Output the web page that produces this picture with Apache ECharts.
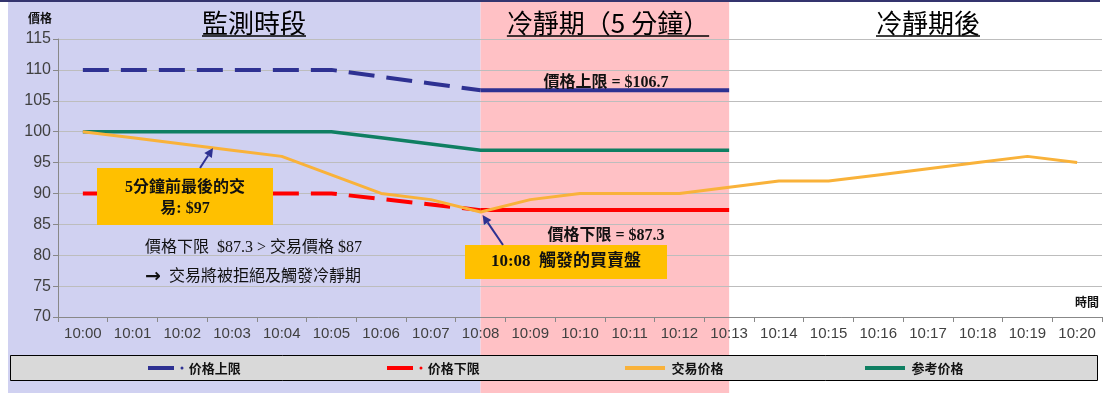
<!DOCTYPE html>
<html><head><meta charset="utf-8">
<script src="https://cdn.jsdelivr.net/npm/echarts@6/dist/echarts.min.js"></script>
<style>html,body{margin:0;padding:0;background:#fff}#c{width:1112px;height:395px}</style>
</head><body><div id="c"></div>
<script>
const times = ['10:00','10:01','10:02','10:03','10:04','10:05','10:06','10:07','10:08','10:09','10:10','10:11','10:12','10:13','10:14','10:15','10:16','10:17','10:18','10:19','10:20'];
const upperLimit = [110,110,110,110,110,110,108.9,107.8,106.7,106.7,106.7,106.7,106.7,106.7,null,null,null,null,null,null,null];
const lowerLimit = [90,90,90,90,90,90,89.1,88.2,87.3,87.3,87.3,87.3,87.3,87.3,null,null,null,null,null,null,null];
const tradePrice = [100,99,98,97,96,93,90,89,87,89,90,90,90,91,92,92,93,94,95,96,95];
const refPrice = [100,100,100,100,100,100,99,98,97,97,97,97,97,97,null,null,null,null,null,null,null];
const yMin = 70, yMax = 115, yStep = 5;
const coolStart = 8, coolEnd = 13;
const seriesNames = ['价格上限','价格下限','交易价格','参考价格'];
const periodTitles = ['監測時段','冷靜期（5 分鐘）','冷靜期後'];

const NAVY = '#2E3192', RED = '#FF0000', ORANGE = '#F9B23A', GREEN = '#0F7F62';
const serif = '"Liberation Serif","Noto Sans CJK TC",serif';
const cjk = '"Noto Sans CJK TC","Noto Sans",sans-serif';

const before = arr => arr.map((v,i)=> i<=coolStart ? v : null);
const during = arr => arr.map((v,i)=> (i>=coolStart && i<=coolEnd) ? v : null);

const chart = echarts.init(document.getElementById('c'), null, {renderer:'canvas'});
const lineDot = 'path://M0,2H26V6H0Z M34,2.5A1.5,1.5,0,1,1,34,5.5A1.5,1.5,0,1,1,34,2.5Z';
const bar = 'path://M0,0H40V4H0Z';
function lg(name, left, icon, w){
  return {data:[{name, icon}], left, top:355, padding:5, itemWidth:w, itemHeight:4, itemGap:4, selectedMode:false,
    textStyle:{fontSize:13, fontWeight:'bold', color:'#111', fontFamily:'"Noto Sans CJK SC",sans-serif', lineHeight:16}};
}
const option = {
  animation:false,
  backgroundColor:'#ffffff',
  grid:{left:58, right:10, top:39, bottom:78},
  legend:[
    lg(seriesNames[0], 143, lineDot, 36),
    lg(seriesNames[1], 382, lineDot, 36),
    lg(seriesNames[2], 620, bar, 43),
    lg(seriesNames[3], 860, bar, 43)
  ],
  xAxis:{type:'category', data:times, boundaryGap:true,
    name:'時間', nameLocation:'end', nameGap:-3,
    nameTextStyle:{align:'right', verticalAlign:'bottom', padding:[0,0,9,0], fontSize:12, fontWeight:'bold', color:'#111', fontFamily:cjk},
    axisLine:{lineStyle:{color:'#888', width:1}},
    axisTick:{show:true, interval:0, alignWithLabel:false, length:5, lineStyle:{color:'#888'}},
    axisLabel:{interval:0, fontSize:15, color:'#404040', fontFamily:'"Liberation Sans",Arial,sans-serif', margin:9},
    splitLine:{show:false}},
  yAxis:{type:'value', min:yMin, max:yMax, interval:yStep,
    name:'價格', nameLocation:'end', nameGap:15,
    nameTextStyle:{align:'right', padding:[0,6,0,0], fontSize:12, fontWeight:'bold', color:'#111', fontFamily:cjk},
    axisLine:{show:true, lineStyle:{color:'#888'}},
    axisTick:{show:true, length:5, lineStyle:{color:'#888'}},
    axisLabel:{fontSize:16, color:'#404040', fontFamily:'"Liberation Sans",Arial,sans-serif', margin:7},
    splitLine:{lineStyle:{color:'#BDBDBD', width:1}}},
  series:[
    {name:seriesNames[0], type:'line', data:before(upperLimit), symbol:'none', color:NAVY, z:3,
      lineStyle:{color:NAVY, width:4, type:[26,12], cap:'butt'}},
    {name:seriesNames[0], type:'line', data:during(upperLimit), symbol:'none', color:NAVY, z:3,
      lineStyle:{color:NAVY, width:4}},
    {name:seriesNames[1], type:'line', data:before(lowerLimit), symbol:'none', color:RED, z:3,
      lineStyle:{color:RED, width:4, type:[26,12], cap:'butt'}},
    {name:seriesNames[1], type:'line', data:during(lowerLimit), symbol:'none', color:RED, z:3,
      lineStyle:{color:RED, width:4}},
    {name:seriesNames[3], type:'line', data:refPrice, symbol:'none', color:GREEN, z:4,
      lineStyle:{color:GREEN, width:3.5}},
    {name:seriesNames[2], type:'line', data:tradePrice, symbol:'none', color:ORANGE, z:5,
      lineStyle:{color:ORANGE, width:3}}
  ]
};
chart.setOption(option);

function textW(str, font){ const c=document.createElement('canvas').getContext('2d'); c.font=font; return c.measureText(str).width; }
function arrow(x1,y1,x2,y2){
  const dx=x2-x1, dy=y2-y1, L=Math.hypot(dx,dy), ux=dx/L, uy=dy/L, h=9, w=4.5;
  const bx=x2-ux*h, by=y2-uy*h;
  return [
    {type:'line', z:120, shape:{x1,y1,x2:bx,y2:by}, style:{stroke:NAVY, lineWidth:2}},
    {type:'polygon', z:120, shape:{points:[[x2,y2],[bx-uy*w,by+ux*w],[bx+uy*w,by-ux*w]]}, style:{fill:NAVY}}
  ];
}
const x8 = chart.convertToPixel({xAxisIndex:0}, times[coolStart]);
const x13 = chart.convertToPixel({xAxisIndex:0}, times[coolEnd]);
const tip = chart.convertToPixel({gridIndex:0}, [times[coolStart], tradePrice[coolStart]]);

const titleFont = '26px "Noto Sans CJK TC"';
const titleCenters = [254, 608, 928];
const g = [
  {type:'rect', z:-100, shape:{x:0,y:0,width:1100,height:2}, style:{fill:'#34346E'}},
  {type:'rect', z:-100, shape:{x:8,y:2,width:x8-8,height:391}, style:{fill:'#D0D1F1'}},
  {type:'rect', z:-100, shape:{x:x8,y:2,width:x13-x8,height:391}, style:{fill:'#FFC1C5'}},
  {type:'rect', z:-50, shape:{x:10.5,y:355.5,width:1087,height:25}, style:{fill:'#D9D9D9', stroke:'#000', lineWidth:1}}
];
periodTitles.forEach((t,i)=>{
  const w = textW(t, titleFont), cx = titleCenters[i];
  g.push({type:'text', z:50, style:{text:t, x:cx, y:23, align:'center', verticalAlign:'middle', fontSize:26, fontFamily:'"Noto Sans CJK TC"', fill:'#000'}});
  g.push({type:'line', z:50, shape:{x1:cx-w/2, y1:36, x2:cx+w/2, y2:36}, style:{stroke:'#000', lineWidth:1.5}});
});
// annotation box 1
g.push({type:'rect', z:100, shape:{x:97,y:168,width:176,height:57}, style:{fill:'#FFC000'}});
g.push({type:'text', z:101, style:{text:'5分鐘前最後的交', x:185, y:188, align:'center', verticalAlign:'middle', fontSize:16, fontWeight:'bold', fontFamily:serif, fill:'#111'}});
g.push({type:'text', z:101, style:{text:'易: $97', x:185, y:209, align:'center', verticalAlign:'middle', fontSize:16, fontWeight:'bold', fontFamily:serif, fill:'#111'}});
g.push(...arrow(200,168,213,148));
// explanation text
g.push({type:'text', z:101, style:{text:'價格下限  $87.3 > 交易價格 $87', x:145, y:248, align:'left', verticalAlign:'middle', fontSize:16, fontFamily:serif, fill:'#111'}});
g.push({type:'text', z:101, style:{text:'{a|→}  交易將被拒絕及觸發冷靜期', x:145, y:277, align:'left', verticalAlign:'middle', fontSize:16, fontFamily:serif, fill:'#111',
  rich:{a:{fontSize:19, fontWeight:'bold', fontFamily:'"DejaVu Sans",sans-serif', fill:'#111'}}}});
// limits labels
g.push({type:'text', z:101, style:{text:'價格上限 = $106.7', x:606, y:83, align:'center', verticalAlign:'middle', fontSize:16, fontWeight:'bold', fontFamily:serif, fill:'#111'}});
g.push({type:'text', z:101, style:{text:'價格下限 = $87.3', x:606, y:236, align:'center', verticalAlign:'middle', fontSize:16, fontWeight:'bold', fontFamily:serif, fill:'#111'}});
// annotation box 2
g.push({type:'rect', z:100, shape:{x:465,y:245,width:202,height:34}, style:{fill:'#FFC000'}});
g.push({type:'text', z:101, style:{text:'10:08  觸發的買賣盤', x:566, y:262, align:'center', verticalAlign:'middle', fontSize:17, fontWeight:'bold', fontFamily:serif, fill:'#111'}});
g.push(...arrow(503,245,tip[0]+2,tip[1]+3));
chart.setOption({graphic:g});
</script></body></html>
